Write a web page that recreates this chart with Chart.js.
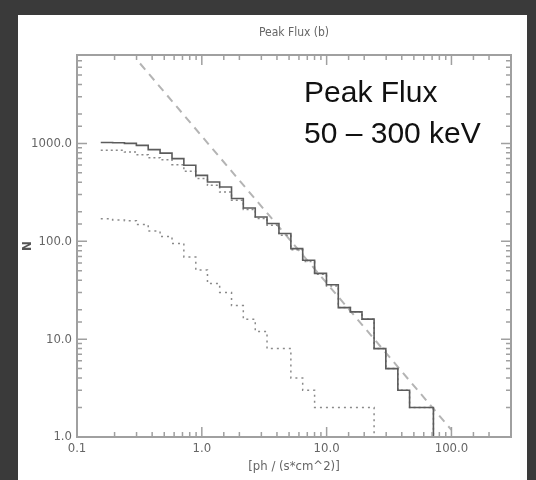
<!DOCTYPE html>
<html>
<head>
<meta charset="utf-8">
<title>Peak Flux (b)</title>
<script src="https://cdn.jsdelivr.net/npm/chart.js@4.4.1/dist/chart.umd.min.js"></script>
<style>
  html, body { margin: 0; padding: 0; background: #3a3a3a; }
  #panel { position: absolute; left: 18px; top: 15px; width: 509px; height: 465px; background: #fff; }
</style>
</head>
<body>
<div id="panel"><canvas id="fluxChart"></canvas></div>
<script>
// bin edges of the histograms (ph / (s*cm^2))
const binEdges = [0.155, 0.193, 0.240, 0.299, 0.372, 0.463, 0.577, 0.718, 0.895, 1.11,
                  1.39, 1.73, 2.15, 2.68, 3.33, 4.15, 5.17, 6.43, 8.01, 9.97,
                  12.4, 15.5, 19.2, 24.0, 29.8, 37.2, 46.2, 57.6, 71.7];

// cumulative counts N(>S) per bin
const totalCounts = [1020, 1015, 1000, 955, 863, 796, 698, 597, 471, 403,
                     358, 273, 219, 177, 152, 120, 84, 64, 47, 36,
                     21, 19, 16, 8, 5, 3, 2, 2];
const upperDotted = [849, 849, 815, 767, 714, 682, 606, 518, 437, 373,
                     318, 262, 211, 171, 146, 115, 82, 62, 46, 35,
                     21, 19, 16, 8, 5, 3, 2, 2];
const lowerDotted = [170, 165, 162, 148, 127, 112, 95, 69, 51, 37,
                     30, 22, 16, 12, 8, 8, 4, 3, 2, 2,
                     2, 2, 2];

// -3/2 power law reference line (two ends)
const powerLawX = [0.32, 100];
const powerLawY = [6550, 1.18];

const xTickRange = [0.1, 300];
const yTickRange = [1, 8000];

const axisFont = "'Liberation Sans Narrow', 'DejaVu Sans Condensed', Arial, sans-serif";

// step points: one per left bin edge, then drop to the floor at the last edge
function steps(counts) {
    const pts = counts.map((c, i) => ({ x: binEdges[i], y: c }));
    pts.push({ x: binEdges[counts.length], y: yTickRange[0] });
    return pts;
}

function isMajor(v) {
    const l = Math.log10(v);
    return Math.abs(l - Math.round(l)) < 1e-6;
}

// IDL-style frame: ticks pointing inward on all four sides + text box
const framePlugin = {
    id: 'framePlugin',
    afterDatasetsDraw(chart) {
        const { ctx, chartArea: a, scales: { x, y } } = chart;
        ctx.save();
        ctx.strokeStyle = '#a0a0a0';
        ctx.lineWidth = 1.5;
        ctx.beginPath();
        x.ticks.forEach(t => {
            const px = x.getPixelForValue(t.value);
            const len = isMajor(t.value) ? 10 : 5;
            ctx.moveTo(px, a.bottom); ctx.lineTo(px, a.bottom - len);
            ctx.moveTo(px, a.top); ctx.lineTo(px, a.top + len);
        });
        y.ticks.forEach(t => {
            const py = y.getPixelForValue(t.value);
            const len = isMajor(t.value) ? 10 : 5;
            ctx.moveTo(a.left, py); ctx.lineTo(a.left + len, py);
            ctx.moveTo(a.right, py); ctx.lineTo(a.right - len, py);
        });
        ctx.stroke();
        ctx.lineWidth = 2;
        ctx.strokeRect(a.left, a.top, a.right - a.left, a.bottom - a.top);

        ctx.fillStyle = '#111';
        ctx.font = "30px 'Liberation Sans', Arial, sans-serif";
        ctx.textBaseline = 'alphabetic';
        ctx.fillText('Peak Flux', a.left + 227, a.top + 47);
        ctx.fillText('50 \u2013 300 keV', a.left + 227, a.top + 88);
        ctx.restore();
    }
};

new Chart(document.getElementById('fluxChart'), {
    type: 'line',
    data: {
        datasets: [
            { label: 'total', data: steps(totalCounts), stepped: true,
              borderColor: '#5c5c5c', borderWidth: 1.6 },
            { label: 'upper', data: steps(upperDotted), stepped: true,
              borderColor: '#8a8a8a', borderWidth: 1.5, borderDash: [2, 3] },
            { label: 'lower', data: steps(lowerDotted), stepped: true,
              borderColor: '#8a8a8a', borderWidth: 1.5, borderDash: [2, 4] },
            { label: 'power law', data: powerLawX.map((v, i) => ({ x: v, y: powerLawY[i] })),
              borderColor: '#b4b4b4', borderWidth: 2, borderDash: [8, 6] }
        ]
    },
    options: {
        responsive: true,
        maintainAspectRatio: false,
        animation: false,
        layout: { padding: { right: 16 } },
        elements: { point: { radius: 0 }, line: { tension: 0 } },
        plugins: {
            legend: { display: false },
            tooltip: { enabled: false },
            title: {
                display: true,
                text: 'Peak Flux (b)',
                fullSize: false,
                color: '#666',
                font: { family: axisFont, size: 12, weight: 'normal' },
                padding: { top: 11, bottom: 14.6 }
            }
        },
        scales: {
            x: {
                type: 'logarithmic',
                min: xTickRange[0],
                max: xTickRange[1],
                grid: { display: false, drawTicks: false },
                border: { display: false },
                ticks: {
                    autoSkip: false, maxRotation: 0, padding: 4,
                    color: '#666', font: { family: axisFont, size: 13 },
                    callback: v => isMajor(v) ? v.toFixed(1) : ''
                },
                title: {
                    display: true, text: '[ph / (s*cm^2)]', color: '#666',
                    font: { family: axisFont, size: 13 }, padding: { top: 0, bottom: 5.5 }
                },
                afterFit: s => { s.height = 43; }
            },
            y: {
                type: 'logarithmic',
                min: yTickRange[0],
                max: yTickRange[1],
                grid: { display: false, drawTicks: false },
                border: { display: false },
                ticks: {
                    autoSkip: false, padding: 5,
                    color: '#666', font: { family: axisFont, size: 13 },
                    callback: v => isMajor(v) ? v.toFixed(1) : ''
                },
                title: {
                    display: true, text: 'N', color: '#555',
                    font: { family: axisFont, size: 13, weight: 'bold' }, padding: { top: 2, bottom: 0 }
                },
                afterFit: s => { s.width = 59; }
            }
        }
    },
    plugins: [framePlugin]
});
</script>
</body>
</html>
